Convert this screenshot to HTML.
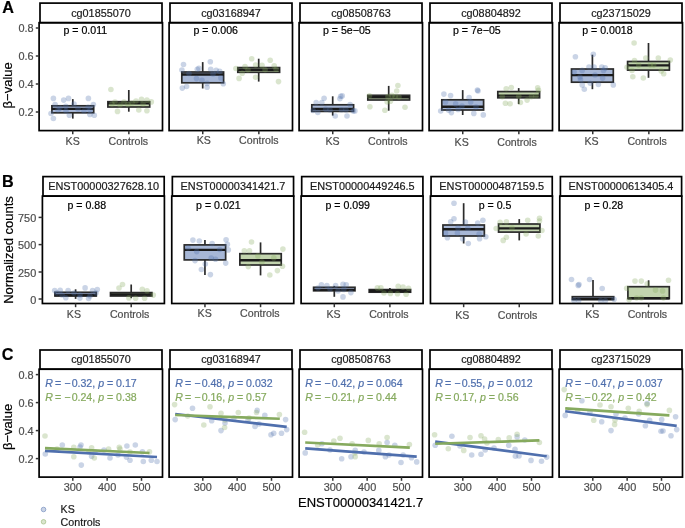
<!DOCTYPE html>
<html><head><meta charset="utf-8"><style>
html,body{margin:0;padding:0;background:#fff;width:685px;height:528px;overflow:hidden;}
svg{display:block;will-change:transform;}
text{font-family:"Liberation Sans", sans-serif;}
</style></head><body>
<svg width="685" height="528" viewBox="0 0 685 528" font-family='"Liberation Sans", sans-serif'>
<rect width="685" height="528" fill="#fff"/>
<text x="2.20" y="13.40" font-size="16.2" fill="#000" stroke="#000" stroke-width="0.2" text-anchor="start" font-weight="bold">A</text>
<text x="2.00" y="186.60" font-size="16.2" fill="#000" stroke="#000" stroke-width="0.2" text-anchor="start" font-weight="bold">B</text>
<text x="1.80" y="360.00" font-size="16.2" fill="#000" stroke="#000" stroke-width="0.2" text-anchor="start" font-weight="bold">C</text>
<line x1="72.80" y1="99.10" x2="72.80" y2="105.80" stroke="#2b2b2b" stroke-width="1.7" stroke-linecap="butt"/>
<line x1="72.80" y1="112.80" x2="72.80" y2="118.60" stroke="#2b2b2b" stroke-width="1.7" stroke-linecap="butt"/>
<rect x="51.90" y="105.80" width="41.80" height="7.00" fill="#4F6FAD" fill-opacity="0.5" stroke="#2b2b2b" stroke-width="1.7"/>
<line x1="51.90" y1="108.90" x2="93.70" y2="108.90" stroke="#1a1a1a" stroke-width="2.4" stroke-linecap="butt"/>
<line x1="128.80" y1="90.00" x2="128.80" y2="101.70" stroke="#2b2b2b" stroke-width="1.7" stroke-linecap="butt"/>
<line x1="128.80" y1="107.00" x2="128.80" y2="111.70" stroke="#2b2b2b" stroke-width="1.7" stroke-linecap="butt"/>
<rect x="107.90" y="101.70" width="41.80" height="5.30" fill="#86AA5E" fill-opacity="0.5" stroke="#2b2b2b" stroke-width="1.7"/>
<line x1="107.90" y1="103.40" x2="149.70" y2="103.40" stroke="#1a1a1a" stroke-width="2.4" stroke-linecap="butt"/>
<circle cx="53.40" cy="98.40" r="2.8" fill="#4F6FAD" fill-opacity="0.3"/>
<circle cx="63.70" cy="100.10" r="2.8" fill="#4F6FAD" fill-opacity="0.3"/>
<circle cx="68.50" cy="98.40" r="2.8" fill="#4F6FAD" fill-opacity="0.3"/>
<circle cx="88.40" cy="98.40" r="2.8" fill="#4F6FAD" fill-opacity="0.3"/>
<circle cx="55.10" cy="104.60" r="2.8" fill="#4F6FAD" fill-opacity="0.3"/>
<circle cx="93.40" cy="104.60" r="2.8" fill="#4F6FAD" fill-opacity="0.3"/>
<circle cx="65.80" cy="106.40" r="2.8" fill="#4F6FAD" fill-opacity="0.3"/>
<circle cx="88.10" cy="107.30" r="2.8" fill="#4F6FAD" fill-opacity="0.3"/>
<circle cx="51.00" cy="113.50" r="2.8" fill="#4F6FAD" fill-opacity="0.3"/>
<circle cx="53.40" cy="118.50" r="2.8" fill="#4F6FAD" fill-opacity="0.3"/>
<circle cx="69.40" cy="115.30" r="2.8" fill="#4F6FAD" fill-opacity="0.3"/>
<circle cx="89.90" cy="114.40" r="2.8" fill="#4F6FAD" fill-opacity="0.3"/>
<circle cx="94.30" cy="115.30" r="2.8" fill="#4F6FAD" fill-opacity="0.3"/>
<circle cx="58.00" cy="110.00" r="2.8" fill="#4F6FAD" fill-opacity="0.3"/>
<circle cx="78.00" cy="109.00" r="2.8" fill="#4F6FAD" fill-opacity="0.3"/>
<circle cx="84.00" cy="111.00" r="2.8" fill="#4F6FAD" fill-opacity="0.3"/>
<circle cx="60.00" cy="108.00" r="2.8" fill="#4F6FAD" fill-opacity="0.3"/>
<circle cx="74.00" cy="104.00" r="2.8" fill="#4F6FAD" fill-opacity="0.3"/>
<circle cx="66.00" cy="111.00" r="2.8" fill="#4F6FAD" fill-opacity="0.3"/>
<circle cx="90.00" cy="110.00" r="2.8" fill="#4F6FAD" fill-opacity="0.3"/>
<circle cx="110.90" cy="89.50" r="2.8" fill="#86AA5E" fill-opacity="0.3"/>
<circle cx="117.50" cy="111.40" r="2.8" fill="#86AA5E" fill-opacity="0.3"/>
<circle cx="138.80" cy="110.00" r="2.8" fill="#86AA5E" fill-opacity="0.3"/>
<circle cx="146.90" cy="110.80" r="2.8" fill="#86AA5E" fill-opacity="0.3"/>
<circle cx="141.50" cy="99.20" r="2.8" fill="#86AA5E" fill-opacity="0.3"/>
<circle cx="146.90" cy="100.10" r="2.8" fill="#86AA5E" fill-opacity="0.3"/>
<circle cx="151.30" cy="101.90" r="2.8" fill="#86AA5E" fill-opacity="0.3"/>
<circle cx="115.00" cy="102.00" r="2.8" fill="#86AA5E" fill-opacity="0.3"/>
<circle cx="124.00" cy="102.00" r="2.8" fill="#86AA5E" fill-opacity="0.3"/>
<circle cx="132.00" cy="103.00" r="2.8" fill="#86AA5E" fill-opacity="0.3"/>
<circle cx="136.00" cy="101.00" r="2.8" fill="#86AA5E" fill-opacity="0.3"/>
<circle cx="120.00" cy="105.00" r="2.8" fill="#86AA5E" fill-opacity="0.3"/>
<circle cx="143.00" cy="104.00" r="2.8" fill="#86AA5E" fill-opacity="0.3"/>
<circle cx="128.00" cy="104.50" r="2.8" fill="#86AA5E" fill-opacity="0.3"/>
<circle cx="112.00" cy="104.00" r="2.8" fill="#86AA5E" fill-opacity="0.3"/>
<rect x="40.00" y="3.10" width="122.00" height="19.60" fill="none" stroke="#000" stroke-width="1.7"/>
<text x="101.00" y="16.70" font-size="10.85" fill="#1A1A1A" stroke="#1A1A1A" stroke-width="0.2" text-anchor="middle" >cg01855070</text>
<rect x="39.10" y="22.70" width="123.40" height="107.90" fill="none" stroke="#000" stroke-width="1.7"/>
<text x="63.50" y="34.00" font-size="10.6" fill="#000" stroke="#000" stroke-width="0.2" text-anchor="start" >p = 0.011</text>
<line x1="72.75" y1="130.60" x2="72.75" y2="134.30" stroke="#333" stroke-width="1.5" stroke-linecap="butt"/>
<text x="72.65" y="144.70" font-size="10.6" fill="#4D4D4D" stroke="#4D4D4D" stroke-width="0.2" text-anchor="middle" >KS</text>
<line x1="128.85" y1="130.60" x2="128.85" y2="134.30" stroke="#333" stroke-width="1.5" stroke-linecap="butt"/>
<text x="128.35" y="144.70" font-size="10.6" fill="#4D4D4D" stroke="#4D4D4D" stroke-width="0.2" text-anchor="middle" >Controls</text>
<line x1="202.70" y1="62.10" x2="202.70" y2="72.00" stroke="#2b2b2b" stroke-width="1.7" stroke-linecap="butt"/>
<line x1="202.70" y1="82.80" x2="202.70" y2="88.50" stroke="#2b2b2b" stroke-width="1.7" stroke-linecap="butt"/>
<rect x="181.80" y="72.00" width="41.80" height="10.80" fill="#4F6FAD" fill-opacity="0.5" stroke="#2b2b2b" stroke-width="1.7"/>
<line x1="181.80" y1="74.50" x2="223.60" y2="74.50" stroke="#1a1a1a" stroke-width="2.4" stroke-linecap="butt"/>
<line x1="258.70" y1="58.70" x2="258.70" y2="67.60" stroke="#2b2b2b" stroke-width="1.7" stroke-linecap="butt"/>
<line x1="258.70" y1="72.30" x2="258.70" y2="81.60" stroke="#2b2b2b" stroke-width="1.7" stroke-linecap="butt"/>
<rect x="237.80" y="67.60" width="41.80" height="4.70" fill="#86AA5E" fill-opacity="0.5" stroke="#2b2b2b" stroke-width="1.7"/>
<line x1="237.80" y1="69.70" x2="279.60" y2="69.70" stroke="#1a1a1a" stroke-width="2.4" stroke-linecap="butt"/>
<circle cx="183.50" cy="64.50" r="2.8" fill="#4F6FAD" fill-opacity="0.3"/>
<circle cx="210.30" cy="61.70" r="2.8" fill="#4F6FAD" fill-opacity="0.3"/>
<circle cx="181.90" cy="70.00" r="2.8" fill="#4F6FAD" fill-opacity="0.3"/>
<circle cx="197.30" cy="69.20" r="2.8" fill="#4F6FAD" fill-opacity="0.3"/>
<circle cx="198.90" cy="68.40" r="2.8" fill="#4F6FAD" fill-opacity="0.3"/>
<circle cx="210.70" cy="69.20" r="2.8" fill="#4F6FAD" fill-opacity="0.3"/>
<circle cx="216.20" cy="70.40" r="2.8" fill="#4F6FAD" fill-opacity="0.3"/>
<circle cx="219.70" cy="71.20" r="2.8" fill="#4F6FAD" fill-opacity="0.3"/>
<circle cx="196.50" cy="78.60" r="2.8" fill="#4F6FAD" fill-opacity="0.3"/>
<circle cx="202.00" cy="80.20" r="2.8" fill="#4F6FAD" fill-opacity="0.3"/>
<circle cx="207.10" cy="83.40" r="2.8" fill="#4F6FAD" fill-opacity="0.3"/>
<circle cx="207.10" cy="87.30" r="2.8" fill="#4F6FAD" fill-opacity="0.3"/>
<circle cx="223.30" cy="83.80" r="2.8" fill="#4F6FAD" fill-opacity="0.3"/>
<circle cx="182.30" cy="88.10" r="2.8" fill="#4F6FAD" fill-opacity="0.3"/>
<circle cx="186.60" cy="86.50" r="2.8" fill="#4F6FAD" fill-opacity="0.3"/>
<circle cx="220.90" cy="77.90" r="2.8" fill="#4F6FAD" fill-opacity="0.3"/>
<circle cx="189.00" cy="73.50" r="2.8" fill="#4F6FAD" fill-opacity="0.3"/>
<circle cx="213.00" cy="74.00" r="2.8" fill="#4F6FAD" fill-opacity="0.3"/>
<circle cx="251.70" cy="58.70" r="2.8" fill="#86AA5E" fill-opacity="0.3"/>
<circle cx="270.20" cy="60.30" r="2.8" fill="#86AA5E" fill-opacity="0.3"/>
<circle cx="235.90" cy="68.50" r="2.8" fill="#86AA5E" fill-opacity="0.3"/>
<circle cx="245.00" cy="66.60" r="2.8" fill="#86AA5E" fill-opacity="0.3"/>
<circle cx="255.60" cy="65.00" r="2.8" fill="#86AA5E" fill-opacity="0.3"/>
<circle cx="262.00" cy="65.40" r="2.8" fill="#86AA5E" fill-opacity="0.3"/>
<circle cx="274.20" cy="65.80" r="2.8" fill="#86AA5E" fill-opacity="0.3"/>
<circle cx="239.10" cy="78.40" r="2.8" fill="#86AA5E" fill-opacity="0.3"/>
<circle cx="242.20" cy="73.30" r="2.8" fill="#86AA5E" fill-opacity="0.3"/>
<circle cx="255.60" cy="77.20" r="2.8" fill="#86AA5E" fill-opacity="0.3"/>
<circle cx="278.50" cy="81.60" r="2.8" fill="#86AA5E" fill-opacity="0.3"/>
<circle cx="265.10" cy="69.70" r="2.8" fill="#86AA5E" fill-opacity="0.3"/>
<circle cx="276.10" cy="69.30" r="2.8" fill="#86AA5E" fill-opacity="0.3"/>
<circle cx="248.00" cy="70.00" r="2.8" fill="#86AA5E" fill-opacity="0.3"/>
<rect x="170.00" y="3.10" width="122.00" height="19.60" fill="none" stroke="#000" stroke-width="1.7"/>
<text x="231.00" y="16.70" font-size="10.85" fill="#1A1A1A" stroke="#1A1A1A" stroke-width="0.2" text-anchor="middle" >cg03168947</text>
<rect x="169.10" y="22.70" width="123.40" height="107.90" fill="none" stroke="#000" stroke-width="1.7"/>
<text x="193.50" y="34.00" font-size="10.6" fill="#000" stroke="#000" stroke-width="0.2" text-anchor="start" >p = 0.006</text>
<line x1="202.75" y1="130.60" x2="202.75" y2="134.30" stroke="#333" stroke-width="1.5" stroke-linecap="butt"/>
<text x="203.75" y="143.70" font-size="10.6" fill="#4D4D4D" stroke="#4D4D4D" stroke-width="0.2" text-anchor="middle" >KS</text>
<line x1="258.85" y1="130.60" x2="258.85" y2="134.30" stroke="#333" stroke-width="1.5" stroke-linecap="butt"/>
<text x="258.85" y="143.70" font-size="10.6" fill="#4D4D4D" stroke="#4D4D4D" stroke-width="0.2" text-anchor="middle" >Controls</text>
<line x1="332.70" y1="96.30" x2="332.70" y2="104.80" stroke="#2b2b2b" stroke-width="1.7" stroke-linecap="butt"/>
<line x1="332.70" y1="111.40" x2="332.70" y2="115.60" stroke="#2b2b2b" stroke-width="1.7" stroke-linecap="butt"/>
<rect x="311.80" y="104.80" width="41.80" height="6.60" fill="#4F6FAD" fill-opacity="0.5" stroke="#2b2b2b" stroke-width="1.7"/>
<line x1="311.80" y1="109.00" x2="353.60" y2="109.00" stroke="#1a1a1a" stroke-width="2.4" stroke-linecap="butt"/>
<line x1="388.70" y1="85.90" x2="388.70" y2="95.30" stroke="#2b2b2b" stroke-width="1.7" stroke-linecap="butt"/>
<line x1="388.70" y1="100.00" x2="388.70" y2="110.70" stroke="#2b2b2b" stroke-width="1.7" stroke-linecap="butt"/>
<rect x="367.80" y="95.30" width="41.80" height="4.70" fill="#86AA5E" fill-opacity="0.5" stroke="#2b2b2b" stroke-width="1.7"/>
<line x1="367.80" y1="97.30" x2="409.60" y2="97.30" stroke="#1a1a1a" stroke-width="2.4" stroke-linecap="butt"/>
<circle cx="324.10" cy="98.30" r="2.8" fill="#4F6FAD" fill-opacity="0.3"/>
<circle cx="340.70" cy="96.30" r="2.8" fill="#4F6FAD" fill-opacity="0.3"/>
<circle cx="342.20" cy="95.90" r="2.8" fill="#4F6FAD" fill-opacity="0.3"/>
<circle cx="339.90" cy="98.70" r="2.8" fill="#4F6FAD" fill-opacity="0.3"/>
<circle cx="316.20" cy="102.60" r="2.8" fill="#4F6FAD" fill-opacity="0.3"/>
<circle cx="321.80" cy="102.60" r="2.8" fill="#4F6FAD" fill-opacity="0.3"/>
<circle cx="313.10" cy="110.50" r="2.8" fill="#4F6FAD" fill-opacity="0.3"/>
<circle cx="317.80" cy="112.50" r="2.8" fill="#4F6FAD" fill-opacity="0.3"/>
<circle cx="335.20" cy="116.00" r="2.8" fill="#4F6FAD" fill-opacity="0.3"/>
<circle cx="347.00" cy="116.00" r="2.8" fill="#4F6FAD" fill-opacity="0.3"/>
<circle cx="353.30" cy="110.90" r="2.8" fill="#4F6FAD" fill-opacity="0.3"/>
<circle cx="354.90" cy="110.90" r="2.8" fill="#4F6FAD" fill-opacity="0.3"/>
<circle cx="350.10" cy="104.60" r="2.8" fill="#4F6FAD" fill-opacity="0.3"/>
<circle cx="325.70" cy="109.30" r="2.8" fill="#4F6FAD" fill-opacity="0.3"/>
<circle cx="341.50" cy="109.70" r="2.8" fill="#4F6FAD" fill-opacity="0.3"/>
<circle cx="330.00" cy="110.00" r="2.8" fill="#4F6FAD" fill-opacity="0.3"/>
<circle cx="346.00" cy="110.00" r="2.8" fill="#4F6FAD" fill-opacity="0.3"/>
<circle cx="397.90" cy="85.50" r="2.8" fill="#86AA5E" fill-opacity="0.3"/>
<circle cx="396.70" cy="91.00" r="2.8" fill="#86AA5E" fill-opacity="0.3"/>
<circle cx="369.50" cy="95.80" r="2.8" fill="#86AA5E" fill-opacity="0.3"/>
<circle cx="388.00" cy="96.50" r="2.8" fill="#86AA5E" fill-opacity="0.3"/>
<circle cx="392.00" cy="95.40" r="2.8" fill="#86AA5E" fill-opacity="0.3"/>
<circle cx="395.10" cy="96.50" r="2.8" fill="#86AA5E" fill-opacity="0.3"/>
<circle cx="390.40" cy="101.30" r="2.8" fill="#86AA5E" fill-opacity="0.3"/>
<circle cx="387.20" cy="102.00" r="2.8" fill="#86AA5E" fill-opacity="0.3"/>
<circle cx="369.90" cy="106.80" r="2.8" fill="#86AA5E" fill-opacity="0.3"/>
<circle cx="384.90" cy="110.30" r="2.8" fill="#86AA5E" fill-opacity="0.3"/>
<circle cx="405.00" cy="107.20" r="2.8" fill="#86AA5E" fill-opacity="0.3"/>
<circle cx="399.00" cy="97.00" r="2.8" fill="#86AA5E" fill-opacity="0.3"/>
<rect x="300.00" y="3.10" width="122.00" height="19.60" fill="none" stroke="#000" stroke-width="1.7"/>
<text x="361.00" y="16.70" font-size="10.85" fill="#1A1A1A" stroke="#1A1A1A" stroke-width="0.2" text-anchor="middle" >cg08508763</text>
<rect x="299.10" y="22.70" width="123.40" height="107.90" fill="none" stroke="#000" stroke-width="1.7"/>
<text x="323.00" y="34.00" font-size="10.6" fill="#000" stroke="#000" stroke-width="0.2" text-anchor="start" >p = 5e−05</text>
<line x1="332.75" y1="130.60" x2="332.75" y2="134.30" stroke="#333" stroke-width="1.5" stroke-linecap="butt"/>
<text x="332.55" y="145.00" font-size="10.6" fill="#4D4D4D" stroke="#4D4D4D" stroke-width="0.2" text-anchor="middle" >KS</text>
<line x1="388.85" y1="130.60" x2="388.85" y2="134.30" stroke="#333" stroke-width="1.5" stroke-linecap="butt"/>
<text x="387.85" y="145.00" font-size="10.6" fill="#4D4D4D" stroke="#4D4D4D" stroke-width="0.2" text-anchor="middle" >Controls</text>
<line x1="462.70" y1="90.10" x2="462.70" y2="99.80" stroke="#2b2b2b" stroke-width="1.7" stroke-linecap="butt"/>
<line x1="462.70" y1="110.00" x2="462.70" y2="115.00" stroke="#2b2b2b" stroke-width="1.7" stroke-linecap="butt"/>
<rect x="441.80" y="99.80" width="41.80" height="10.20" fill="#4F6FAD" fill-opacity="0.5" stroke="#2b2b2b" stroke-width="1.7"/>
<line x1="441.80" y1="106.70" x2="483.60" y2="106.70" stroke="#1a1a1a" stroke-width="2.4" stroke-linecap="butt"/>
<line x1="518.70" y1="88.10" x2="518.70" y2="91.60" stroke="#2b2b2b" stroke-width="1.7" stroke-linecap="butt"/>
<line x1="518.70" y1="97.80" x2="518.70" y2="104.10" stroke="#2b2b2b" stroke-width="1.7" stroke-linecap="butt"/>
<rect x="497.80" y="91.60" width="41.80" height="6.20" fill="#86AA5E" fill-opacity="0.5" stroke="#2b2b2b" stroke-width="1.7"/>
<line x1="497.80" y1="95.60" x2="539.60" y2="95.60" stroke="#1a1a1a" stroke-width="2.4" stroke-linecap="butt"/>
<circle cx="443.90" cy="94.10" r="2.8" fill="#4F6FAD" fill-opacity="0.3"/>
<circle cx="450.60" cy="95.60" r="2.8" fill="#4F6FAD" fill-opacity="0.3"/>
<circle cx="477.40" cy="90.10" r="2.8" fill="#4F6FAD" fill-opacity="0.3"/>
<circle cx="478.00" cy="91.00" r="2.8" fill="#4F6FAD" fill-opacity="0.3"/>
<circle cx="469.10" cy="97.60" r="2.8" fill="#4F6FAD" fill-opacity="0.3"/>
<circle cx="470.70" cy="101.90" r="2.8" fill="#4F6FAD" fill-opacity="0.3"/>
<circle cx="455.70" cy="103.90" r="2.8" fill="#4F6FAD" fill-opacity="0.3"/>
<circle cx="445.50" cy="101.90" r="2.8" fill="#4F6FAD" fill-opacity="0.3"/>
<circle cx="440.70" cy="111.00" r="2.8" fill="#4F6FAD" fill-opacity="0.3"/>
<circle cx="451.40" cy="112.60" r="2.8" fill="#4F6FAD" fill-opacity="0.3"/>
<circle cx="473.80" cy="113.40" r="2.8" fill="#4F6FAD" fill-opacity="0.3"/>
<circle cx="483.30" cy="114.90" r="2.8" fill="#4F6FAD" fill-opacity="0.3"/>
<circle cx="458.10" cy="109.40" r="2.8" fill="#4F6FAD" fill-opacity="0.3"/>
<circle cx="448.60" cy="110.20" r="2.8" fill="#4F6FAD" fill-opacity="0.3"/>
<circle cx="462.00" cy="106.00" r="2.8" fill="#4F6FAD" fill-opacity="0.3"/>
<circle cx="476.00" cy="107.00" r="2.8" fill="#4F6FAD" fill-opacity="0.3"/>
<circle cx="506.20" cy="88.70" r="2.8" fill="#86AA5E" fill-opacity="0.3"/>
<circle cx="511.30" cy="87.50" r="2.8" fill="#86AA5E" fill-opacity="0.3"/>
<circle cx="537.70" cy="87.90" r="2.8" fill="#86AA5E" fill-opacity="0.3"/>
<circle cx="538.50" cy="90.30" r="2.8" fill="#86AA5E" fill-opacity="0.3"/>
<circle cx="502.20" cy="96.60" r="2.8" fill="#86AA5E" fill-opacity="0.3"/>
<circle cx="518.80" cy="96.20" r="2.8" fill="#86AA5E" fill-opacity="0.3"/>
<circle cx="531.40" cy="96.60" r="2.8" fill="#86AA5E" fill-opacity="0.3"/>
<circle cx="505.40" cy="103.30" r="2.8" fill="#86AA5E" fill-opacity="0.3"/>
<circle cx="510.10" cy="103.70" r="2.8" fill="#86AA5E" fill-opacity="0.3"/>
<circle cx="520.40" cy="102.50" r="2.8" fill="#86AA5E" fill-opacity="0.3"/>
<circle cx="527.10" cy="100.10" r="2.8" fill="#86AA5E" fill-opacity="0.3"/>
<circle cx="536.00" cy="96.00" r="2.8" fill="#86AA5E" fill-opacity="0.3"/>
<rect x="430.00" y="3.10" width="122.00" height="19.60" fill="none" stroke="#000" stroke-width="1.7"/>
<text x="491.00" y="16.70" font-size="10.85" fill="#1A1A1A" stroke="#1A1A1A" stroke-width="0.2" text-anchor="middle" >cg08804892</text>
<rect x="429.10" y="22.70" width="123.40" height="107.90" fill="none" stroke="#000" stroke-width="1.7"/>
<text x="453.00" y="34.00" font-size="10.6" fill="#000" stroke="#000" stroke-width="0.2" text-anchor="start" >p = 7e−05</text>
<line x1="462.75" y1="130.60" x2="462.75" y2="134.30" stroke="#333" stroke-width="1.5" stroke-linecap="butt"/>
<text x="461.65" y="145.60" font-size="10.6" fill="#4D4D4D" stroke="#4D4D4D" stroke-width="0.2" text-anchor="middle" >KS</text>
<line x1="518.85" y1="130.60" x2="518.85" y2="134.30" stroke="#333" stroke-width="1.5" stroke-linecap="butt"/>
<text x="517.05" y="145.60" font-size="10.6" fill="#4D4D4D" stroke="#4D4D4D" stroke-width="0.2" text-anchor="middle" >Controls</text>
<line x1="592.40" y1="54.70" x2="592.40" y2="69.00" stroke="#2b2b2b" stroke-width="1.7" stroke-linecap="butt"/>
<line x1="592.40" y1="82.20" x2="592.40" y2="89.20" stroke="#2b2b2b" stroke-width="1.7" stroke-linecap="butt"/>
<rect x="571.50" y="69.00" width="41.80" height="13.20" fill="#4F6FAD" fill-opacity="0.5" stroke="#2b2b2b" stroke-width="1.7"/>
<line x1="571.50" y1="75.10" x2="613.30" y2="75.10" stroke="#1a1a1a" stroke-width="2.4" stroke-linecap="butt"/>
<line x1="648.50" y1="43.00" x2="648.50" y2="61.50" stroke="#2b2b2b" stroke-width="1.7" stroke-linecap="butt"/>
<line x1="648.50" y1="70.10" x2="648.50" y2="77.80" stroke="#2b2b2b" stroke-width="1.7" stroke-linecap="butt"/>
<rect x="627.60" y="61.50" width="41.80" height="8.60" fill="#86AA5E" fill-opacity="0.5" stroke="#2b2b2b" stroke-width="1.7"/>
<line x1="627.60" y1="65.40" x2="669.40" y2="65.40" stroke="#1a1a1a" stroke-width="2.4" stroke-linecap="butt"/>
<circle cx="575.40" cy="56.80" r="2.8" fill="#4F6FAD" fill-opacity="0.3"/>
<circle cx="593.30" cy="54.30" r="2.8" fill="#4F6FAD" fill-opacity="0.3"/>
<circle cx="589.00" cy="67.00" r="2.8" fill="#4F6FAD" fill-opacity="0.3"/>
<circle cx="594.10" cy="67.00" r="2.8" fill="#4F6FAD" fill-opacity="0.3"/>
<circle cx="601.80" cy="67.00" r="2.8" fill="#4F6FAD" fill-opacity="0.3"/>
<circle cx="605.20" cy="67.90" r="2.8" fill="#4F6FAD" fill-opacity="0.3"/>
<circle cx="574.10" cy="72.10" r="2.8" fill="#4F6FAD" fill-opacity="0.3"/>
<circle cx="582.20" cy="70.40" r="2.8" fill="#4F6FAD" fill-opacity="0.3"/>
<circle cx="603.50" cy="70.40" r="2.8" fill="#4F6FAD" fill-opacity="0.3"/>
<circle cx="580.50" cy="79.80" r="2.8" fill="#4F6FAD" fill-opacity="0.3"/>
<circle cx="582.20" cy="84.90" r="2.8" fill="#4F6FAD" fill-opacity="0.3"/>
<circle cx="584.30" cy="89.20" r="2.8" fill="#4F6FAD" fill-opacity="0.3"/>
<circle cx="590.30" cy="83.20" r="2.8" fill="#4F6FAD" fill-opacity="0.3"/>
<circle cx="598.40" cy="84.50" r="2.8" fill="#4F6FAD" fill-opacity="0.3"/>
<circle cx="613.30" cy="84.90" r="2.8" fill="#4F6FAD" fill-opacity="0.3"/>
<circle cx="602.60" cy="78.10" r="2.8" fill="#4F6FAD" fill-opacity="0.3"/>
<circle cx="595.00" cy="75.00" r="2.8" fill="#4F6FAD" fill-opacity="0.3"/>
<circle cx="580.00" cy="77.00" r="2.8" fill="#4F6FAD" fill-opacity="0.3"/>
<circle cx="634.10" cy="43.00" r="2.8" fill="#86AA5E" fill-opacity="0.3"/>
<circle cx="645.80" cy="58.00" r="2.8" fill="#86AA5E" fill-opacity="0.3"/>
<circle cx="658.30" cy="58.00" r="2.8" fill="#86AA5E" fill-opacity="0.3"/>
<circle cx="670.30" cy="60.10" r="2.8" fill="#86AA5E" fill-opacity="0.3"/>
<circle cx="634.50" cy="60.50" r="2.8" fill="#86AA5E" fill-opacity="0.3"/>
<circle cx="627.00" cy="67.20" r="2.8" fill="#86AA5E" fill-opacity="0.3"/>
<circle cx="638.70" cy="65.10" r="2.8" fill="#86AA5E" fill-opacity="0.3"/>
<circle cx="650.30" cy="65.10" r="2.8" fill="#86AA5E" fill-opacity="0.3"/>
<circle cx="653.70" cy="65.10" r="2.8" fill="#86AA5E" fill-opacity="0.3"/>
<circle cx="632.00" cy="70.50" r="2.8" fill="#86AA5E" fill-opacity="0.3"/>
<circle cx="661.20" cy="70.90" r="2.8" fill="#86AA5E" fill-opacity="0.3"/>
<circle cx="663.70" cy="73.80" r="2.8" fill="#86AA5E" fill-opacity="0.3"/>
<circle cx="632.80" cy="76.75" r="2.8" fill="#86AA5E" fill-opacity="0.3"/>
<circle cx="643.30" cy="78.00" r="2.8" fill="#86AA5E" fill-opacity="0.3"/>
<rect x="560.00" y="3.10" width="122.00" height="19.60" fill="none" stroke="#000" stroke-width="1.7"/>
<text x="621.00" y="16.70" font-size="10.85" fill="#1A1A1A" stroke="#1A1A1A" stroke-width="0.2" text-anchor="middle" >cg23715029</text>
<rect x="559.10" y="22.70" width="123.40" height="107.90" fill="none" stroke="#000" stroke-width="1.7"/>
<text x="582.20" y="34.00" font-size="10.6" fill="#000" stroke="#000" stroke-width="0.2" text-anchor="start" >p = 0.0018</text>
<line x1="592.75" y1="130.60" x2="592.75" y2="134.30" stroke="#333" stroke-width="1.5" stroke-linecap="butt"/>
<text x="591.45" y="144.50" font-size="10.6" fill="#4D4D4D" stroke="#4D4D4D" stroke-width="0.2" text-anchor="middle" >KS</text>
<line x1="648.85" y1="130.60" x2="648.85" y2="134.30" stroke="#333" stroke-width="1.5" stroke-linecap="butt"/>
<text x="647.15" y="144.50" font-size="10.6" fill="#4D4D4D" stroke="#4D4D4D" stroke-width="0.2" text-anchor="middle" >Controls</text>
<line x1="35.80" y1="112.00" x2="39.10" y2="112.00" stroke="#333" stroke-width="1.5" stroke-linecap="butt"/>
<text x="33.60" y="115.90" font-size="10.9" fill="#4D4D4D" stroke="#4D4D4D" stroke-width="0.2" text-anchor="end" >0.2</text>
<line x1="35.80" y1="84.00" x2="39.10" y2="84.00" stroke="#333" stroke-width="1.5" stroke-linecap="butt"/>
<text x="33.60" y="87.90" font-size="10.9" fill="#4D4D4D" stroke="#4D4D4D" stroke-width="0.2" text-anchor="end" >0.4</text>
<line x1="35.80" y1="56.00" x2="39.10" y2="56.00" stroke="#333" stroke-width="1.5" stroke-linecap="butt"/>
<text x="33.60" y="59.90" font-size="10.9" fill="#4D4D4D" stroke="#4D4D4D" stroke-width="0.2" text-anchor="end" >0.6</text>
<line x1="35.80" y1="28.00" x2="39.10" y2="28.00" stroke="#333" stroke-width="1.5" stroke-linecap="butt"/>
<text x="33.60" y="31.90" font-size="10.9" fill="#4D4D4D" stroke="#4D4D4D" stroke-width="0.2" text-anchor="end" >0.8</text>
<text transform="translate(12.2,85.3) rotate(-90)" font-size="13" text-anchor="middle" fill="#000" stroke="#000" stroke-width="0.2">β−value</text>
<line x1="75.60" y1="289.30" x2="75.60" y2="292.30" stroke="#2b2b2b" stroke-width="1.7" stroke-linecap="butt"/>
<line x1="75.60" y1="296.00" x2="75.60" y2="298.90" stroke="#2b2b2b" stroke-width="1.7" stroke-linecap="butt"/>
<rect x="54.90" y="292.30" width="41.40" height="3.70" fill="#4F6FAD" fill-opacity="0.5" stroke="#2b2b2b" stroke-width="1.7"/>
<line x1="54.90" y1="295.00" x2="96.30" y2="295.00" stroke="#1a1a1a" stroke-width="2.4" stroke-linecap="butt"/>
<line x1="131.20" y1="284.50" x2="131.20" y2="292.60" stroke="#2b2b2b" stroke-width="1.7" stroke-linecap="butt"/>
<line x1="131.20" y1="296.00" x2="131.20" y2="298.20" stroke="#2b2b2b" stroke-width="1.7" stroke-linecap="butt"/>
<rect x="110.50" y="292.60" width="41.40" height="3.40" fill="#86AA5E" fill-opacity="0.5" stroke="#2b2b2b" stroke-width="1.7"/>
<line x1="110.50" y1="294.50" x2="151.90" y2="294.50" stroke="#1a1a1a" stroke-width="2.4" stroke-linecap="butt"/>
<circle cx="54.70" cy="290.60" r="2.8" fill="#4F6FAD" fill-opacity="0.3"/>
<circle cx="60.20" cy="290.20" r="2.8" fill="#4F6FAD" fill-opacity="0.3"/>
<circle cx="68.10" cy="290.60" r="2.8" fill="#4F6FAD" fill-opacity="0.3"/>
<circle cx="85.10" cy="287.90" r="2.8" fill="#4F6FAD" fill-opacity="0.3"/>
<circle cx="97.30" cy="289.50" r="2.8" fill="#4F6FAD" fill-opacity="0.3"/>
<circle cx="92.60" cy="290.60" r="2.8" fill="#4F6FAD" fill-opacity="0.3"/>
<circle cx="65.80" cy="297.70" r="2.8" fill="#4F6FAD" fill-opacity="0.3"/>
<circle cx="79.90" cy="298.10" r="2.8" fill="#4F6FAD" fill-opacity="0.3"/>
<circle cx="88.60" cy="298.50" r="2.8" fill="#4F6FAD" fill-opacity="0.3"/>
<circle cx="96.00" cy="293.00" r="2.8" fill="#4F6FAD" fill-opacity="0.3"/>
<circle cx="57.00" cy="293.00" r="2.8" fill="#4F6FAD" fill-opacity="0.3"/>
<circle cx="74.00" cy="293.00" r="2.8" fill="#4F6FAD" fill-opacity="0.3"/>
<circle cx="80.00" cy="295.00" r="2.8" fill="#4F6FAD" fill-opacity="0.3"/>
<circle cx="90.00" cy="296.00" r="2.8" fill="#4F6FAD" fill-opacity="0.3"/>
<circle cx="62.00" cy="295.00" r="2.8" fill="#4F6FAD" fill-opacity="0.3"/>
<circle cx="122.50" cy="284.50" r="2.8" fill="#86AA5E" fill-opacity="0.3"/>
<circle cx="119.00" cy="288.00" r="2.8" fill="#86AA5E" fill-opacity="0.3"/>
<circle cx="142.30" cy="289.20" r="2.8" fill="#86AA5E" fill-opacity="0.3"/>
<circle cx="147.00" cy="290.80" r="2.8" fill="#86AA5E" fill-opacity="0.3"/>
<circle cx="153.30" cy="295.10" r="2.8" fill="#86AA5E" fill-opacity="0.3"/>
<circle cx="128.90" cy="297.90" r="2.8" fill="#86AA5E" fill-opacity="0.3"/>
<circle cx="135.60" cy="298.20" r="2.8" fill="#86AA5E" fill-opacity="0.3"/>
<circle cx="144.60" cy="298.20" r="2.8" fill="#86AA5E" fill-opacity="0.3"/>
<rect x="43.00" y="176.60" width="121.20" height="19.50" fill="none" stroke="#000" stroke-width="1.7"/>
<text x="103.60" y="190.30" font-size="10.9" fill="#1A1A1A" stroke="#1A1A1A" stroke-width="0.2" text-anchor="middle" >ENST00000327628.10</text>
<rect x="42.40" y="196.10" width="122.00" height="107.40" fill="none" stroke="#000" stroke-width="1.7"/>
<text x="67.50" y="208.90" font-size="10.6" fill="#000" stroke="#000" stroke-width="0.2" text-anchor="start" >p = 0.88</text>
<line x1="75.60" y1="303.50" x2="75.60" y2="307.20" stroke="#333" stroke-width="1.5" stroke-linecap="butt"/>
<text x="73.90" y="318.20" font-size="10.6" fill="#4D4D4D" stroke="#4D4D4D" stroke-width="0.2" text-anchor="middle" >KS</text>
<line x1="131.20" y1="303.50" x2="131.20" y2="307.20" stroke="#333" stroke-width="1.5" stroke-linecap="butt"/>
<text x="129.70" y="318.20" font-size="10.6" fill="#4D4D4D" stroke="#4D4D4D" stroke-width="0.2" text-anchor="middle" >Controls</text>
<line x1="204.95" y1="240.10" x2="204.95" y2="244.90" stroke="#2b2b2b" stroke-width="1.7" stroke-linecap="butt"/>
<line x1="204.95" y1="259.90" x2="204.95" y2="274.90" stroke="#2b2b2b" stroke-width="1.7" stroke-linecap="butt"/>
<rect x="184.25" y="244.90" width="41.40" height="15.00" fill="#4F6FAD" fill-opacity="0.5" stroke="#2b2b2b" stroke-width="1.7"/>
<line x1="184.25" y1="249.90" x2="225.65" y2="249.90" stroke="#1a1a1a" stroke-width="2.4" stroke-linecap="butt"/>
<line x1="260.55" y1="242.40" x2="260.55" y2="253.70" stroke="#2b2b2b" stroke-width="1.7" stroke-linecap="butt"/>
<line x1="260.55" y1="265.00" x2="260.55" y2="275.40" stroke="#2b2b2b" stroke-width="1.7" stroke-linecap="butt"/>
<rect x="239.85" y="253.70" width="41.40" height="11.30" fill="#86AA5E" fill-opacity="0.5" stroke="#2b2b2b" stroke-width="1.7"/>
<line x1="239.85" y1="260.20" x2="281.25" y2="260.20" stroke="#1a1a1a" stroke-width="2.4" stroke-linecap="butt"/>
<circle cx="192.90" cy="240.10" r="2.8" fill="#4F6FAD" fill-opacity="0.3"/>
<circle cx="199.30" cy="241.00" r="2.8" fill="#4F6FAD" fill-opacity="0.3"/>
<circle cx="226.10" cy="239.70" r="2.8" fill="#4F6FAD" fill-opacity="0.3"/>
<circle cx="227.40" cy="244.40" r="2.8" fill="#4F6FAD" fill-opacity="0.3"/>
<circle cx="228.30" cy="249.90" r="2.8" fill="#4F6FAD" fill-opacity="0.3"/>
<circle cx="212.10" cy="243.50" r="2.8" fill="#4F6FAD" fill-opacity="0.3"/>
<circle cx="196.70" cy="251.60" r="2.8" fill="#4F6FAD" fill-opacity="0.3"/>
<circle cx="219.70" cy="249.50" r="2.8" fill="#4F6FAD" fill-opacity="0.3"/>
<circle cx="195.00" cy="260.60" r="2.8" fill="#4F6FAD" fill-opacity="0.3"/>
<circle cx="211.20" cy="258.00" r="2.8" fill="#4F6FAD" fill-opacity="0.3"/>
<circle cx="215.50" cy="259.30" r="2.8" fill="#4F6FAD" fill-opacity="0.3"/>
<circle cx="225.70" cy="263.10" r="2.8" fill="#4F6FAD" fill-opacity="0.3"/>
<circle cx="205.30" cy="264.00" r="2.8" fill="#4F6FAD" fill-opacity="0.3"/>
<circle cx="201.40" cy="269.50" r="2.8" fill="#4F6FAD" fill-opacity="0.3"/>
<circle cx="210.40" cy="274.60" r="2.8" fill="#4F6FAD" fill-opacity="0.3"/>
<circle cx="188.00" cy="248.00" r="2.8" fill="#4F6FAD" fill-opacity="0.3"/>
<circle cx="251.50" cy="242.00" r="2.8" fill="#86AA5E" fill-opacity="0.3"/>
<circle cx="282.90" cy="249.10" r="2.8" fill="#86AA5E" fill-opacity="0.3"/>
<circle cx="244.30" cy="250.70" r="2.8" fill="#86AA5E" fill-opacity="0.3"/>
<circle cx="249.50" cy="250.70" r="2.8" fill="#86AA5E" fill-opacity="0.3"/>
<circle cx="257.90" cy="255.90" r="2.8" fill="#86AA5E" fill-opacity="0.3"/>
<circle cx="273.80" cy="257.90" r="2.8" fill="#86AA5E" fill-opacity="0.3"/>
<circle cx="248.30" cy="266.60" r="2.8" fill="#86AA5E" fill-opacity="0.3"/>
<circle cx="282.50" cy="266.20" r="2.8" fill="#86AA5E" fill-opacity="0.3"/>
<circle cx="277.40" cy="270.60" r="2.8" fill="#86AA5E" fill-opacity="0.3"/>
<circle cx="269.80" cy="275.00" r="2.8" fill="#86AA5E" fill-opacity="0.3"/>
<circle cx="262.00" cy="262.00" r="2.8" fill="#86AA5E" fill-opacity="0.3"/>
<rect x="172.35" y="176.60" width="121.20" height="19.50" fill="none" stroke="#000" stroke-width="1.7"/>
<text x="232.95" y="190.30" font-size="10.9" fill="#1A1A1A" stroke="#1A1A1A" stroke-width="0.2" text-anchor="middle" >ENST00000341421.7</text>
<rect x="171.75" y="196.10" width="122.00" height="107.40" fill="none" stroke="#000" stroke-width="1.7"/>
<text x="196.10" y="208.90" font-size="10.6" fill="#000" stroke="#000" stroke-width="0.2" text-anchor="start" >p = 0.021</text>
<line x1="204.95" y1="303.50" x2="204.95" y2="307.20" stroke="#333" stroke-width="1.5" stroke-linecap="butt"/>
<text x="204.65" y="317.00" font-size="10.6" fill="#4D4D4D" stroke="#4D4D4D" stroke-width="0.2" text-anchor="middle" >KS</text>
<line x1="260.55" y1="303.50" x2="260.55" y2="307.20" stroke="#333" stroke-width="1.5" stroke-linecap="butt"/>
<text x="259.85" y="317.00" font-size="10.6" fill="#4D4D4D" stroke="#4D4D4D" stroke-width="0.2" text-anchor="middle" >Controls</text>
<line x1="334.30" y1="285.90" x2="334.30" y2="287.30" stroke="#2b2b2b" stroke-width="1.7" stroke-linecap="butt"/>
<line x1="334.30" y1="290.80" x2="334.30" y2="296.80" stroke="#2b2b2b" stroke-width="1.7" stroke-linecap="butt"/>
<rect x="313.60" y="287.30" width="41.40" height="3.50" fill="#4F6FAD" fill-opacity="0.5" stroke="#2b2b2b" stroke-width="1.7"/>
<line x1="313.60" y1="289.90" x2="355.00" y2="289.90" stroke="#1a1a1a" stroke-width="2.4" stroke-linecap="butt"/>
<line x1="389.90" y1="287.90" x2="389.90" y2="289.60" stroke="#2b2b2b" stroke-width="1.7" stroke-linecap="butt"/>
<line x1="389.90" y1="292.20" x2="389.90" y2="292.20" stroke="#2b2b2b" stroke-width="1.7" stroke-linecap="butt"/>
<rect x="369.20" y="289.60" width="41.40" height="2.60" fill="#86AA5E" fill-opacity="0.5" stroke="#2b2b2b" stroke-width="1.7"/>
<line x1="369.20" y1="291.00" x2="410.60" y2="291.00" stroke="#1a1a1a" stroke-width="2.4" stroke-linecap="butt"/>
<circle cx="321.40" cy="284.70" r="2.8" fill="#4F6FAD" fill-opacity="0.3"/>
<circle cx="326.90" cy="285.50" r="2.8" fill="#4F6FAD" fill-opacity="0.3"/>
<circle cx="335.60" cy="285.50" r="2.8" fill="#4F6FAD" fill-opacity="0.3"/>
<circle cx="343.00" cy="284.30" r="2.8" fill="#4F6FAD" fill-opacity="0.3"/>
<circle cx="346.20" cy="284.70" r="2.8" fill="#4F6FAD" fill-opacity="0.3"/>
<circle cx="343.80" cy="289.40" r="2.8" fill="#4F6FAD" fill-opacity="0.3"/>
<circle cx="350.90" cy="292.60" r="2.8" fill="#4F6FAD" fill-opacity="0.3"/>
<circle cx="343.00" cy="296.90" r="2.8" fill="#4F6FAD" fill-opacity="0.3"/>
<circle cx="338.00" cy="291.00" r="2.8" fill="#4F6FAD" fill-opacity="0.3"/>
<circle cx="318.00" cy="288.00" r="2.8" fill="#4F6FAD" fill-opacity="0.3"/>
<circle cx="330.00" cy="289.00" r="2.8" fill="#4F6FAD" fill-opacity="0.3"/>
<circle cx="377.40" cy="287.90" r="2.8" fill="#86AA5E" fill-opacity="0.3"/>
<circle cx="380.90" cy="287.90" r="2.8" fill="#86AA5E" fill-opacity="0.3"/>
<circle cx="398.20" cy="286.30" r="2.8" fill="#86AA5E" fill-opacity="0.3"/>
<circle cx="403.00" cy="287.10" r="2.8" fill="#86AA5E" fill-opacity="0.3"/>
<circle cx="408.50" cy="288.20" r="2.8" fill="#86AA5E" fill-opacity="0.3"/>
<circle cx="384.00" cy="293.00" r="2.8" fill="#86AA5E" fill-opacity="0.3"/>
<circle cx="390.40" cy="293.40" r="2.8" fill="#86AA5E" fill-opacity="0.3"/>
<circle cx="397.50" cy="293.80" r="2.8" fill="#86AA5E" fill-opacity="0.3"/>
<circle cx="406.10" cy="294.20" r="2.8" fill="#86AA5E" fill-opacity="0.3"/>
<rect x="301.70" y="176.60" width="121.20" height="19.50" fill="none" stroke="#000" stroke-width="1.7"/>
<text x="362.30" y="190.30" font-size="10.9" fill="#1A1A1A" stroke="#1A1A1A" stroke-width="0.2" text-anchor="middle" >ENST00000449246.5</text>
<rect x="301.10" y="196.10" width="122.00" height="107.40" fill="none" stroke="#000" stroke-width="1.7"/>
<text x="325.50" y="208.90" font-size="10.6" fill="#000" stroke="#000" stroke-width="0.2" text-anchor="start" >p = 0.099</text>
<line x1="334.30" y1="303.50" x2="334.30" y2="307.20" stroke="#333" stroke-width="1.5" stroke-linecap="butt"/>
<text x="333.50" y="317.90" font-size="10.6" fill="#4D4D4D" stroke="#4D4D4D" stroke-width="0.2" text-anchor="middle" >KS</text>
<line x1="389.90" y1="303.50" x2="389.90" y2="307.20" stroke="#333" stroke-width="1.5" stroke-linecap="butt"/>
<text x="388.90" y="317.90" font-size="10.6" fill="#4D4D4D" stroke="#4D4D4D" stroke-width="0.2" text-anchor="middle" >Controls</text>
<line x1="463.65" y1="203.20" x2="463.65" y2="225.00" stroke="#2b2b2b" stroke-width="1.7" stroke-linecap="butt"/>
<line x1="463.65" y1="236.00" x2="463.65" y2="243.50" stroke="#2b2b2b" stroke-width="1.7" stroke-linecap="butt"/>
<rect x="442.95" y="225.00" width="41.40" height="11.00" fill="#4F6FAD" fill-opacity="0.5" stroke="#2b2b2b" stroke-width="1.7"/>
<line x1="442.95" y1="229.30" x2="484.35" y2="229.30" stroke="#1a1a1a" stroke-width="2.4" stroke-linecap="butt"/>
<line x1="519.25" y1="219.10" x2="519.25" y2="224.00" stroke="#2b2b2b" stroke-width="1.7" stroke-linecap="butt"/>
<line x1="519.25" y1="232.10" x2="519.25" y2="240.40" stroke="#2b2b2b" stroke-width="1.7" stroke-linecap="butt"/>
<rect x="498.55" y="224.00" width="41.40" height="8.10" fill="#86AA5E" fill-opacity="0.5" stroke="#2b2b2b" stroke-width="1.7"/>
<line x1="498.55" y1="228.40" x2="539.95" y2="228.40" stroke="#1a1a1a" stroke-width="2.4" stroke-linecap="butt"/>
<circle cx="454.00" cy="203.20" r="2.8" fill="#4F6FAD" fill-opacity="0.3"/>
<circle cx="454.00" cy="218.80" r="2.8" fill="#4F6FAD" fill-opacity="0.3"/>
<circle cx="450.70" cy="221.70" r="2.8" fill="#4F6FAD" fill-opacity="0.3"/>
<circle cx="482.90" cy="220.30" r="2.8" fill="#4F6FAD" fill-opacity="0.3"/>
<circle cx="477.70" cy="223.10" r="2.8" fill="#4F6FAD" fill-opacity="0.3"/>
<circle cx="465.40" cy="222.10" r="2.8" fill="#4F6FAD" fill-opacity="0.3"/>
<circle cx="445.50" cy="233.00" r="2.8" fill="#4F6FAD" fill-opacity="0.3"/>
<circle cx="447.40" cy="237.80" r="2.8" fill="#4F6FAD" fill-opacity="0.3"/>
<circle cx="457.40" cy="233.00" r="2.8" fill="#4F6FAD" fill-opacity="0.3"/>
<circle cx="467.80" cy="228.30" r="2.8" fill="#4F6FAD" fill-opacity="0.3"/>
<circle cx="468.30" cy="243.50" r="2.8" fill="#4F6FAD" fill-opacity="0.3"/>
<circle cx="462.60" cy="238.70" r="2.8" fill="#4F6FAD" fill-opacity="0.3"/>
<circle cx="479.10" cy="234.00" r="2.8" fill="#4F6FAD" fill-opacity="0.3"/>
<circle cx="479.60" cy="238.70" r="2.8" fill="#4F6FAD" fill-opacity="0.3"/>
<circle cx="485.80" cy="236.80" r="2.8" fill="#4F6FAD" fill-opacity="0.3"/>
<circle cx="458.00" cy="228.00" r="2.8" fill="#4F6FAD" fill-opacity="0.3"/>
<circle cx="527.70" cy="220.30" r="2.8" fill="#86AA5E" fill-opacity="0.3"/>
<circle cx="539.50" cy="218.30" r="2.8" fill="#86AA5E" fill-opacity="0.3"/>
<circle cx="539.50" cy="221.10" r="2.8" fill="#86AA5E" fill-opacity="0.3"/>
<circle cx="506.40" cy="221.90" r="2.8" fill="#86AA5E" fill-opacity="0.3"/>
<circle cx="500.10" cy="222.20" r="2.8" fill="#86AA5E" fill-opacity="0.3"/>
<circle cx="496.20" cy="228.50" r="2.8" fill="#86AA5E" fill-opacity="0.3"/>
<circle cx="541.90" cy="230.50" r="2.8" fill="#86AA5E" fill-opacity="0.3"/>
<circle cx="506.40" cy="237.20" r="2.8" fill="#86AA5E" fill-opacity="0.3"/>
<circle cx="503.20" cy="240.40" r="2.8" fill="#86AA5E" fill-opacity="0.3"/>
<circle cx="526.10" cy="234.00" r="2.8" fill="#86AA5E" fill-opacity="0.3"/>
<circle cx="538.30" cy="236.00" r="2.8" fill="#86AA5E" fill-opacity="0.3"/>
<circle cx="512.00" cy="228.00" r="2.8" fill="#86AA5E" fill-opacity="0.3"/>
<rect x="431.05" y="176.60" width="121.20" height="19.50" fill="none" stroke="#000" stroke-width="1.7"/>
<text x="491.65" y="190.30" font-size="10.9" fill="#1A1A1A" stroke="#1A1A1A" stroke-width="0.2" text-anchor="middle" >ENST00000487159.5</text>
<rect x="430.45" y="196.10" width="122.00" height="107.40" fill="none" stroke="#000" stroke-width="1.7"/>
<text x="478.70" y="208.90" font-size="10.6" fill="#000" stroke="#000" stroke-width="0.2" text-anchor="start" >p = 0.5</text>
<line x1="463.65" y1="303.50" x2="463.65" y2="307.20" stroke="#333" stroke-width="1.5" stroke-linecap="butt"/>
<text x="462.35" y="319.10" font-size="10.6" fill="#4D4D4D" stroke="#4D4D4D" stroke-width="0.2" text-anchor="middle" >KS</text>
<line x1="519.25" y1="303.50" x2="519.25" y2="307.20" stroke="#333" stroke-width="1.5" stroke-linecap="butt"/>
<text x="517.55" y="319.10" font-size="10.6" fill="#4D4D4D" stroke="#4D4D4D" stroke-width="0.2" text-anchor="middle" >Controls</text>
<line x1="593.00" y1="279.90" x2="593.00" y2="296.70" stroke="#2b2b2b" stroke-width="1.7" stroke-linecap="butt"/>
<line x1="593.00" y1="299.50" x2="593.00" y2="299.50" stroke="#2b2b2b" stroke-width="1.7" stroke-linecap="butt"/>
<rect x="572.30" y="296.70" width="41.40" height="2.80" fill="#4F6FAD" fill-opacity="0.5" stroke="#2b2b2b" stroke-width="1.7"/>
<line x1="572.30" y1="299.00" x2="613.70" y2="299.00" stroke="#1a1a1a" stroke-width="2.4" stroke-linecap="butt"/>
<line x1="648.60" y1="280.30" x2="648.60" y2="286.70" stroke="#2b2b2b" stroke-width="1.7" stroke-linecap="butt"/>
<line x1="648.60" y1="298.60" x2="648.60" y2="298.60" stroke="#2b2b2b" stroke-width="1.7" stroke-linecap="butt"/>
<rect x="627.90" y="286.70" width="41.40" height="11.90" fill="#86AA5E" fill-opacity="0.5" stroke="#2b2b2b" stroke-width="1.7"/>
<line x1="627.90" y1="298.20" x2="669.30" y2="298.20" stroke="#1a1a1a" stroke-width="2.4" stroke-linecap="butt"/>
<circle cx="571.50" cy="279.50" r="2.8" fill="#4F6FAD" fill-opacity="0.3"/>
<circle cx="589.60" cy="279.50" r="2.8" fill="#4F6FAD" fill-opacity="0.3"/>
<circle cx="578.20" cy="285.40" r="2.8" fill="#4F6FAD" fill-opacity="0.3"/>
<circle cx="579.00" cy="284.60" r="2.8" fill="#4F6FAD" fill-opacity="0.3"/>
<circle cx="602.20" cy="288.50" r="2.8" fill="#4F6FAD" fill-opacity="0.3"/>
<circle cx="573.90" cy="300.40" r="2.8" fill="#4F6FAD" fill-opacity="0.3"/>
<circle cx="578.60" cy="300.80" r="2.8" fill="#4F6FAD" fill-opacity="0.3"/>
<circle cx="600.70" cy="300.80" r="2.8" fill="#4F6FAD" fill-opacity="0.3"/>
<circle cx="605.40" cy="300.80" r="2.8" fill="#4F6FAD" fill-opacity="0.3"/>
<circle cx="614.10" cy="299.20" r="2.8" fill="#4F6FAD" fill-opacity="0.3"/>
<circle cx="635.00" cy="281.10" r="2.8" fill="#86AA5E" fill-opacity="0.3"/>
<circle cx="641.30" cy="281.10" r="2.8" fill="#86AA5E" fill-opacity="0.3"/>
<circle cx="668.50" cy="280.30" r="2.8" fill="#86AA5E" fill-opacity="0.3"/>
<circle cx="647.20" cy="283.80" r="2.8" fill="#86AA5E" fill-opacity="0.3"/>
<circle cx="626.70" cy="288.20" r="2.8" fill="#86AA5E" fill-opacity="0.3"/>
<circle cx="655.50" cy="290.10" r="2.8" fill="#86AA5E" fill-opacity="0.3"/>
<circle cx="662.60" cy="290.90" r="2.8" fill="#86AA5E" fill-opacity="0.3"/>
<circle cx="629.10" cy="299.60" r="2.8" fill="#86AA5E" fill-opacity="0.3"/>
<circle cx="636.60" cy="298.00" r="2.8" fill="#86AA5E" fill-opacity="0.3"/>
<circle cx="641.30" cy="298.00" r="2.8" fill="#86AA5E" fill-opacity="0.3"/>
<circle cx="663.40" cy="298.00" r="2.8" fill="#86AA5E" fill-opacity="0.3"/>
<rect x="560.40" y="176.60" width="121.20" height="19.50" fill="none" stroke="#000" stroke-width="1.7"/>
<text x="621.00" y="190.30" font-size="10.9" fill="#1A1A1A" stroke="#1A1A1A" stroke-width="0.2" text-anchor="middle" >ENST00000613405.4</text>
<rect x="559.80" y="196.10" width="122.00" height="107.40" fill="none" stroke="#000" stroke-width="1.7"/>
<text x="584.60" y="208.90" font-size="10.6" fill="#000" stroke="#000" stroke-width="0.2" text-anchor="start" >p = 0.28</text>
<line x1="593.00" y1="303.50" x2="593.00" y2="307.20" stroke="#333" stroke-width="1.5" stroke-linecap="butt"/>
<text x="592.30" y="318.20" font-size="10.6" fill="#4D4D4D" stroke="#4D4D4D" stroke-width="0.2" text-anchor="middle" >KS</text>
<line x1="648.60" y1="303.50" x2="648.60" y2="307.20" stroke="#333" stroke-width="1.5" stroke-linecap="butt"/>
<text x="647.40" y="318.20" font-size="10.6" fill="#4D4D4D" stroke="#4D4D4D" stroke-width="0.2" text-anchor="middle" >Controls</text>
<line x1="38.60" y1="299.00" x2="42.40" y2="299.00" stroke="#333" stroke-width="1.5" stroke-linecap="butt"/>
<text x="36.20" y="303.50" font-size="10.9" fill="#4D4D4D" stroke="#4D4D4D" stroke-width="0.2" text-anchor="end" >0</text>
<line x1="38.60" y1="272.00" x2="42.40" y2="272.00" stroke="#333" stroke-width="1.5" stroke-linecap="butt"/>
<text x="36.20" y="276.50" font-size="10.9" fill="#4D4D4D" stroke="#4D4D4D" stroke-width="0.2" text-anchor="end" >250</text>
<line x1="38.60" y1="244.60" x2="42.40" y2="244.60" stroke="#333" stroke-width="1.5" stroke-linecap="butt"/>
<text x="36.20" y="249.10" font-size="10.9" fill="#4D4D4D" stroke="#4D4D4D" stroke-width="0.2" text-anchor="end" >500</text>
<line x1="38.60" y1="217.40" x2="42.40" y2="217.40" stroke="#333" stroke-width="1.5" stroke-linecap="butt"/>
<text x="36.20" y="221.90" font-size="10.9" fill="#4D4D4D" stroke="#4D4D4D" stroke-width="0.2" text-anchor="end" >750</text>
<text transform="translate(12.6,250) rotate(-90)" font-size="13" text-anchor="middle" fill="#000" stroke="#000" stroke-width="0.2">Normalized counts</text>
<circle cx="45.30" cy="454.00" r="2.8" fill="#4F6FAD" fill-opacity="0.3"/>
<circle cx="62.30" cy="445.00" r="2.8" fill="#4F6FAD" fill-opacity="0.3"/>
<circle cx="81.00" cy="445.00" r="2.8" fill="#4F6FAD" fill-opacity="0.3"/>
<circle cx="81.30" cy="465.10" r="2.8" fill="#4F6FAD" fill-opacity="0.3"/>
<circle cx="91.60" cy="456.20" r="2.8" fill="#4F6FAD" fill-opacity="0.3"/>
<circle cx="126.90" cy="446.00" r="2.8" fill="#4F6FAD" fill-opacity="0.3"/>
<circle cx="135.30" cy="445.00" r="2.8" fill="#4F6FAD" fill-opacity="0.3"/>
<circle cx="130.00" cy="460.30" r="2.8" fill="#4F6FAD" fill-opacity="0.3"/>
<circle cx="142.40" cy="451.70" r="2.8" fill="#4F6FAD" fill-opacity="0.3"/>
<circle cx="143.30" cy="461.50" r="2.8" fill="#4F6FAD" fill-opacity="0.3"/>
<circle cx="151.30" cy="460.30" r="2.8" fill="#4F6FAD" fill-opacity="0.3"/>
<circle cx="157.00" cy="461.50" r="2.8" fill="#4F6FAD" fill-opacity="0.3"/>
<circle cx="126.40" cy="457.10" r="2.8" fill="#4F6FAD" fill-opacity="0.3"/>
<circle cx="80.00" cy="447.00" r="2.8" fill="#4F6FAD" fill-opacity="0.3"/>
<circle cx="95.00" cy="452.00" r="2.8" fill="#4F6FAD" fill-opacity="0.3"/>
<circle cx="104.00" cy="450.00" r="2.8" fill="#4F6FAD" fill-opacity="0.3"/>
<circle cx="118.00" cy="455.00" r="2.8" fill="#4F6FAD" fill-opacity="0.3"/>
<circle cx="110.00" cy="458.00" r="2.8" fill="#4F6FAD" fill-opacity="0.3"/>
<circle cx="45.00" cy="436.00" r="2.8" fill="#86AA5E" fill-opacity="0.3"/>
<circle cx="73.80" cy="447.30" r="2.8" fill="#86AA5E" fill-opacity="0.3"/>
<circle cx="73.80" cy="456.70" r="2.8" fill="#86AA5E" fill-opacity="0.3"/>
<circle cx="91.60" cy="447.80" r="2.8" fill="#86AA5E" fill-opacity="0.3"/>
<circle cx="94.30" cy="458.00" r="2.8" fill="#86AA5E" fill-opacity="0.3"/>
<circle cx="108.60" cy="449.00" r="2.8" fill="#86AA5E" fill-opacity="0.3"/>
<circle cx="119.30" cy="447.30" r="2.8" fill="#86AA5E" fill-opacity="0.3"/>
<circle cx="120.00" cy="449.00" r="2.8" fill="#86AA5E" fill-opacity="0.3"/>
<circle cx="149.50" cy="451.70" r="2.8" fill="#86AA5E" fill-opacity="0.3"/>
<circle cx="89.00" cy="452.00" r="2.8" fill="#86AA5E" fill-opacity="0.3"/>
<circle cx="57.00" cy="449.00" r="2.8" fill="#86AA5E" fill-opacity="0.3"/>
<circle cx="130.00" cy="452.00" r="2.8" fill="#86AA5E" fill-opacity="0.3"/>
<line x1="45.00" y1="450.80" x2="157.00" y2="457.00" stroke="#4F6FAD" stroke-width="2.7" stroke-linecap="butt"/>
<line x1="45.00" y1="448.20" x2="149.50" y2="453.00" stroke="#86AA5E" stroke-width="2.7" stroke-linecap="butt"/>
<rect x="40.00" y="350.00" width="122.00" height="19.20" fill="none" stroke="#000" stroke-width="1.7"/>
<text x="101.00" y="363.40" font-size="10.85" fill="#1A1A1A" stroke="#1A1A1A" stroke-width="0.2" text-anchor="middle" >cg01855070</text>
<rect x="39.10" y="369.20" width="123.40" height="107.90" fill="none" stroke="#000" stroke-width="1.7"/>
<text x="45.30" y="387.0" font-size="10.6" fill="#4F6FAD" stroke="#4F6FAD" stroke-width="0.2"><tspan font-style="italic">R</tspan> <tspan dx="-0.9">=</tspan> −<tspan dx="1.3">0.32</tspan>, <tspan font-style="italic">p</tspan> = 0.17</text>
<text x="45.30" y="400.8" font-size="10.6" fill="#86AA5E" stroke="#86AA5E" stroke-width="0.2"><tspan font-style="italic">R</tspan> <tspan dx="-0.9">=</tspan> −<tspan dx="1.3">0.24</tspan>, <tspan font-style="italic">p</tspan> = 0.38</text>
<line x1="72.80" y1="477.10" x2="72.80" y2="480.80" stroke="#333" stroke-width="1.5" stroke-linecap="butt"/>
<text x="72.80" y="491.30" font-size="10.9" fill="#4D4D4D" stroke="#4D4D4D" stroke-width="0.2" text-anchor="middle" >300</text>
<line x1="107.15" y1="477.10" x2="107.15" y2="480.80" stroke="#333" stroke-width="1.5" stroke-linecap="butt"/>
<text x="107.15" y="491.30" font-size="10.9" fill="#4D4D4D" stroke="#4D4D4D" stroke-width="0.2" text-anchor="middle" >400</text>
<line x1="141.50" y1="477.10" x2="141.50" y2="480.80" stroke="#333" stroke-width="1.5" stroke-linecap="butt"/>
<text x="141.50" y="491.30" font-size="10.9" fill="#4D4D4D" stroke="#4D4D4D" stroke-width="0.2" text-anchor="middle" >500</text>
<circle cx="175.20" cy="419.60" r="2.8" fill="#4F6FAD" fill-opacity="0.3"/>
<circle cx="192.50" cy="408.30" r="2.8" fill="#4F6FAD" fill-opacity="0.3"/>
<circle cx="257.10" cy="410.40" r="2.8" fill="#4F6FAD" fill-opacity="0.3"/>
<circle cx="264.80" cy="415.40" r="2.8" fill="#4F6FAD" fill-opacity="0.3"/>
<circle cx="211.70" cy="420.80" r="2.8" fill="#4F6FAD" fill-opacity="0.3"/>
<circle cx="221.00" cy="430.60" r="2.8" fill="#4F6FAD" fill-opacity="0.3"/>
<circle cx="255.00" cy="426.50" r="2.8" fill="#4F6FAD" fill-opacity="0.3"/>
<circle cx="271.00" cy="434.80" r="2.8" fill="#4F6FAD" fill-opacity="0.3"/>
<circle cx="273.70" cy="433.30" r="2.8" fill="#4F6FAD" fill-opacity="0.3"/>
<circle cx="281.50" cy="433.30" r="2.8" fill="#4F6FAD" fill-opacity="0.3"/>
<circle cx="285.60" cy="419.60" r="2.8" fill="#4F6FAD" fill-opacity="0.3"/>
<circle cx="286.70" cy="429.60" r="2.8" fill="#4F6FAD" fill-opacity="0.3"/>
<circle cx="234.00" cy="418.00" r="2.8" fill="#4F6FAD" fill-opacity="0.3"/>
<circle cx="225.00" cy="423.00" r="2.8" fill="#4F6FAD" fill-opacity="0.3"/>
<circle cx="248.00" cy="420.00" r="2.8" fill="#4F6FAD" fill-opacity="0.3"/>
<circle cx="259.00" cy="424.00" r="2.8" fill="#4F6FAD" fill-opacity="0.3"/>
<circle cx="174.60" cy="404.60" r="2.8" fill="#86AA5E" fill-opacity="0.3"/>
<circle cx="210.00" cy="406.70" r="2.8" fill="#86AA5E" fill-opacity="0.3"/>
<circle cx="221.00" cy="413.30" r="2.8" fill="#86AA5E" fill-opacity="0.3"/>
<circle cx="238.30" cy="412.50" r="2.8" fill="#86AA5E" fill-opacity="0.3"/>
<circle cx="203.80" cy="425.00" r="2.8" fill="#86AA5E" fill-opacity="0.3"/>
<circle cx="224.60" cy="427.50" r="2.8" fill="#86AA5E" fill-opacity="0.3"/>
<circle cx="256.50" cy="412.50" r="2.8" fill="#86AA5E" fill-opacity="0.3"/>
<circle cx="279.40" cy="414.60" r="2.8" fill="#86AA5E" fill-opacity="0.3"/>
<circle cx="187.70" cy="416.00" r="2.8" fill="#86AA5E" fill-opacity="0.3"/>
<circle cx="249.00" cy="418.00" r="2.8" fill="#86AA5E" fill-opacity="0.3"/>
<circle cx="225.00" cy="420.00" r="2.8" fill="#86AA5E" fill-opacity="0.3"/>
<line x1="175.20" y1="414.00" x2="286.70" y2="426.90" stroke="#4F6FAD" stroke-width="2.7" stroke-linecap="butt"/>
<line x1="175.20" y1="415.00" x2="279.80" y2="418.75" stroke="#86AA5E" stroke-width="2.7" stroke-linecap="butt"/>
<rect x="170.00" y="350.00" width="122.00" height="19.20" fill="none" stroke="#000" stroke-width="1.7"/>
<text x="231.00" y="363.40" font-size="10.85" fill="#1A1A1A" stroke="#1A1A1A" stroke-width="0.2" text-anchor="middle" >cg03168947</text>
<rect x="169.10" y="369.20" width="123.40" height="107.90" fill="none" stroke="#000" stroke-width="1.7"/>
<text x="175.30" y="387.0" font-size="10.6" fill="#4F6FAD" stroke="#4F6FAD" stroke-width="0.2"><tspan font-style="italic">R</tspan> <tspan dx="-0.9">=</tspan> −<tspan dx="1.3">0.48</tspan>, <tspan font-style="italic">p</tspan> = 0.032</text>
<text x="175.30" y="400.8" font-size="10.6" fill="#86AA5E" stroke="#86AA5E" stroke-width="0.2"><tspan font-style="italic">R</tspan> <tspan dx="-0.9">=</tspan> −<tspan dx="1.3">0.16</tspan>, <tspan font-style="italic">p</tspan> = 0.57</text>
<line x1="202.80" y1="477.10" x2="202.80" y2="480.80" stroke="#333" stroke-width="1.5" stroke-linecap="butt"/>
<text x="202.80" y="491.30" font-size="10.9" fill="#4D4D4D" stroke="#4D4D4D" stroke-width="0.2" text-anchor="middle" >300</text>
<line x1="237.15" y1="477.10" x2="237.15" y2="480.80" stroke="#333" stroke-width="1.5" stroke-linecap="butt"/>
<text x="237.15" y="491.30" font-size="10.9" fill="#4D4D4D" stroke="#4D4D4D" stroke-width="0.2" text-anchor="middle" >400</text>
<line x1="271.50" y1="477.10" x2="271.50" y2="480.80" stroke="#333" stroke-width="1.5" stroke-linecap="butt"/>
<text x="271.50" y="491.30" font-size="10.9" fill="#4D4D4D" stroke="#4D4D4D" stroke-width="0.2" text-anchor="middle" >500</text>
<circle cx="305.20" cy="452.90" r="2.8" fill="#4F6FAD" fill-opacity="0.3"/>
<circle cx="321.90" cy="443.80" r="2.8" fill="#4F6FAD" fill-opacity="0.3"/>
<circle cx="341.70" cy="458.80" r="2.8" fill="#4F6FAD" fill-opacity="0.3"/>
<circle cx="351.00" cy="456.70" r="2.8" fill="#4F6FAD" fill-opacity="0.3"/>
<circle cx="355.20" cy="450.40" r="2.8" fill="#4F6FAD" fill-opacity="0.3"/>
<circle cx="378.80" cy="450.40" r="2.8" fill="#4F6FAD" fill-opacity="0.3"/>
<circle cx="387.10" cy="442.50" r="2.8" fill="#4F6FAD" fill-opacity="0.3"/>
<circle cx="385.40" cy="456.70" r="2.8" fill="#4F6FAD" fill-opacity="0.3"/>
<circle cx="394.80" cy="445.20" r="2.8" fill="#4F6FAD" fill-opacity="0.3"/>
<circle cx="403.10" cy="455.00" r="2.8" fill="#4F6FAD" fill-opacity="0.3"/>
<circle cx="401.00" cy="462.50" r="2.8" fill="#4F6FAD" fill-opacity="0.3"/>
<circle cx="411.50" cy="457.70" r="2.8" fill="#4F6FAD" fill-opacity="0.3"/>
<circle cx="416.70" cy="461.90" r="2.8" fill="#4F6FAD" fill-opacity="0.3"/>
<circle cx="389.00" cy="455.00" r="2.8" fill="#4F6FAD" fill-opacity="0.3"/>
<circle cx="364.00" cy="452.00" r="2.8" fill="#4F6FAD" fill-opacity="0.3"/>
<circle cx="330.00" cy="450.00" r="2.8" fill="#4F6FAD" fill-opacity="0.3"/>
<circle cx="304.60" cy="432.30" r="2.8" fill="#86AA5E" fill-opacity="0.3"/>
<circle cx="340.00" cy="438.30" r="2.8" fill="#86AA5E" fill-opacity="0.3"/>
<circle cx="333.80" cy="441.00" r="2.8" fill="#86AA5E" fill-opacity="0.3"/>
<circle cx="368.30" cy="440.40" r="2.8" fill="#86AA5E" fill-opacity="0.3"/>
<circle cx="387.10" cy="437.50" r="2.8" fill="#86AA5E" fill-opacity="0.3"/>
<circle cx="379.20" cy="443.80" r="2.8" fill="#86AA5E" fill-opacity="0.3"/>
<circle cx="409.40" cy="444.60" r="2.8" fill="#86AA5E" fill-opacity="0.3"/>
<circle cx="355.20" cy="456.70" r="2.8" fill="#86AA5E" fill-opacity="0.3"/>
<circle cx="352.10" cy="443.80" r="2.8" fill="#86AA5E" fill-opacity="0.3"/>
<circle cx="317.70" cy="445.00" r="2.8" fill="#86AA5E" fill-opacity="0.3"/>
<circle cx="355.00" cy="453.00" r="2.8" fill="#86AA5E" fill-opacity="0.3"/>
<line x1="305.20" y1="448.30" x2="416.70" y2="456.70" stroke="#4F6FAD" stroke-width="2.7" stroke-linecap="butt"/>
<line x1="305.20" y1="442.50" x2="409.80" y2="447.70" stroke="#86AA5E" stroke-width="2.7" stroke-linecap="butt"/>
<rect x="300.00" y="350.00" width="122.00" height="19.20" fill="none" stroke="#000" stroke-width="1.7"/>
<text x="361.00" y="363.40" font-size="10.85" fill="#1A1A1A" stroke="#1A1A1A" stroke-width="0.2" text-anchor="middle" >cg08508763</text>
<rect x="299.10" y="369.20" width="123.40" height="107.90" fill="none" stroke="#000" stroke-width="1.7"/>
<text x="305.30" y="387.0" font-size="10.6" fill="#4F6FAD" stroke="#4F6FAD" stroke-width="0.2"><tspan font-style="italic">R</tspan> <tspan dx="-0.9">=</tspan> −<tspan dx="1.3">0.42</tspan>, <tspan font-style="italic">p</tspan> = 0.064</text>
<text x="305.30" y="400.8" font-size="10.6" fill="#86AA5E" stroke="#86AA5E" stroke-width="0.2"><tspan font-style="italic">R</tspan> <tspan dx="-0.9">=</tspan> −<tspan dx="1.3">0.21</tspan>, <tspan font-style="italic">p</tspan> = 0.44</text>
<line x1="332.80" y1="477.10" x2="332.80" y2="480.80" stroke="#333" stroke-width="1.5" stroke-linecap="butt"/>
<text x="332.80" y="491.30" font-size="10.9" fill="#4D4D4D" stroke="#4D4D4D" stroke-width="0.2" text-anchor="middle" >300</text>
<line x1="367.15" y1="477.10" x2="367.15" y2="480.80" stroke="#333" stroke-width="1.5" stroke-linecap="butt"/>
<text x="367.15" y="491.30" font-size="10.9" fill="#4D4D4D" stroke="#4D4D4D" stroke-width="0.2" text-anchor="middle" >400</text>
<line x1="401.50" y1="477.10" x2="401.50" y2="480.80" stroke="#333" stroke-width="1.5" stroke-linecap="butt"/>
<text x="401.50" y="491.30" font-size="10.9" fill="#4D4D4D" stroke="#4D4D4D" stroke-width="0.2" text-anchor="middle" >500</text>
<circle cx="435.20" cy="445.20" r="2.8" fill="#4F6FAD" fill-opacity="0.3"/>
<circle cx="451.90" cy="436.25" r="2.8" fill="#4F6FAD" fill-opacity="0.3"/>
<circle cx="471.70" cy="455.00" r="2.8" fill="#4F6FAD" fill-opacity="0.3"/>
<circle cx="481.00" cy="454.20" r="2.8" fill="#4F6FAD" fill-opacity="0.3"/>
<circle cx="485.20" cy="450.00" r="2.8" fill="#4F6FAD" fill-opacity="0.3"/>
<circle cx="508.75" cy="445.20" r="2.8" fill="#4F6FAD" fill-opacity="0.3"/>
<circle cx="517.10" cy="436.90" r="2.8" fill="#4F6FAD" fill-opacity="0.3"/>
<circle cx="515.00" cy="449.40" r="2.8" fill="#4F6FAD" fill-opacity="0.3"/>
<circle cx="515.40" cy="456.25" r="2.8" fill="#4F6FAD" fill-opacity="0.3"/>
<circle cx="524.80" cy="440.00" r="2.8" fill="#4F6FAD" fill-opacity="0.3"/>
<circle cx="531.00" cy="460.40" r="2.8" fill="#4F6FAD" fill-opacity="0.3"/>
<circle cx="541.50" cy="461.25" r="2.8" fill="#4F6FAD" fill-opacity="0.3"/>
<circle cx="546.70" cy="457.10" r="2.8" fill="#4F6FAD" fill-opacity="0.3"/>
<circle cx="519.00" cy="456.00" r="2.8" fill="#4F6FAD" fill-opacity="0.3"/>
<circle cx="494.00" cy="448.00" r="2.8" fill="#4F6FAD" fill-opacity="0.3"/>
<circle cx="460.00" cy="446.00" r="2.8" fill="#4F6FAD" fill-opacity="0.3"/>
<circle cx="434.60" cy="434.80" r="2.8" fill="#86AA5E" fill-opacity="0.3"/>
<circle cx="448.30" cy="448.75" r="2.8" fill="#86AA5E" fill-opacity="0.3"/>
<circle cx="463.75" cy="450.40" r="2.8" fill="#86AA5E" fill-opacity="0.3"/>
<circle cx="470.00" cy="437.50" r="2.8" fill="#86AA5E" fill-opacity="0.3"/>
<circle cx="481.00" cy="435.80" r="2.8" fill="#86AA5E" fill-opacity="0.3"/>
<circle cx="484.60" cy="439.00" r="2.8" fill="#86AA5E" fill-opacity="0.3"/>
<circle cx="498.30" cy="439.60" r="2.8" fill="#86AA5E" fill-opacity="0.3"/>
<circle cx="509.20" cy="437.90" r="2.8" fill="#86AA5E" fill-opacity="0.3"/>
<circle cx="517.10" cy="434.20" r="2.8" fill="#86AA5E" fill-opacity="0.3"/>
<circle cx="539.40" cy="442.50" r="2.8" fill="#86AA5E" fill-opacity="0.3"/>
<circle cx="487.00" cy="443.00" r="2.8" fill="#86AA5E" fill-opacity="0.3"/>
<line x1="435.20" y1="441.70" x2="546.70" y2="456.25" stroke="#4F6FAD" stroke-width="2.7" stroke-linecap="butt"/>
<line x1="435.20" y1="443.75" x2="539.40" y2="440.40" stroke="#86AA5E" stroke-width="2.7" stroke-linecap="butt"/>
<rect x="430.00" y="350.00" width="122.00" height="19.20" fill="none" stroke="#000" stroke-width="1.7"/>
<text x="491.00" y="363.40" font-size="10.85" fill="#1A1A1A" stroke="#1A1A1A" stroke-width="0.2" text-anchor="middle" >cg08804892</text>
<rect x="429.10" y="369.20" width="123.40" height="107.90" fill="none" stroke="#000" stroke-width="1.7"/>
<text x="435.30" y="387.0" font-size="10.6" fill="#4F6FAD" stroke="#4F6FAD" stroke-width="0.2"><tspan font-style="italic">R</tspan> <tspan dx="-0.9">=</tspan> −<tspan dx="1.3">0.55</tspan>, <tspan font-style="italic">p</tspan> = 0.012</text>
<text x="435.30" y="400.8" font-size="10.6" fill="#86AA5E" stroke="#86AA5E" stroke-width="0.2"><tspan font-style="italic">R</tspan> <tspan dx="-0.9">=</tspan> <tspan dx="-0.7">0.17</tspan>, <tspan font-style="italic">p</tspan> = 0.56</text>
<line x1="462.80" y1="477.10" x2="462.80" y2="480.80" stroke="#333" stroke-width="1.5" stroke-linecap="butt"/>
<text x="462.80" y="491.30" font-size="10.9" fill="#4D4D4D" stroke="#4D4D4D" stroke-width="0.2" text-anchor="middle" >300</text>
<line x1="497.15" y1="477.10" x2="497.15" y2="480.80" stroke="#333" stroke-width="1.5" stroke-linecap="butt"/>
<text x="497.15" y="491.30" font-size="10.9" fill="#4D4D4D" stroke="#4D4D4D" stroke-width="0.2" text-anchor="middle" >400</text>
<line x1="531.50" y1="477.10" x2="531.50" y2="480.80" stroke="#333" stroke-width="1.5" stroke-linecap="butt"/>
<text x="531.50" y="491.30" font-size="10.9" fill="#4D4D4D" stroke="#4D4D4D" stroke-width="0.2" text-anchor="middle" >500</text>
<circle cx="565.20" cy="415.40" r="2.8" fill="#4F6FAD" fill-opacity="0.3"/>
<circle cx="581.90" cy="400.80" r="2.8" fill="#4F6FAD" fill-opacity="0.3"/>
<circle cx="601.70" cy="421.70" r="2.8" fill="#4F6FAD" fill-opacity="0.3"/>
<circle cx="611.00" cy="430.60" r="2.8" fill="#4F6FAD" fill-opacity="0.3"/>
<circle cx="616.00" cy="414.00" r="2.8" fill="#4F6FAD" fill-opacity="0.3"/>
<circle cx="638.75" cy="414.00" r="2.8" fill="#4F6FAD" fill-opacity="0.3"/>
<circle cx="647.10" cy="403.50" r="2.8" fill="#4F6FAD" fill-opacity="0.3"/>
<circle cx="645.40" cy="425.80" r="2.8" fill="#4F6FAD" fill-opacity="0.3"/>
<circle cx="649.60" cy="420.20" r="2.8" fill="#4F6FAD" fill-opacity="0.3"/>
<circle cx="661.70" cy="419.60" r="2.8" fill="#4F6FAD" fill-opacity="0.3"/>
<circle cx="661.00" cy="431.25" r="2.8" fill="#4F6FAD" fill-opacity="0.3"/>
<circle cx="663.00" cy="431.00" r="2.8" fill="#4F6FAD" fill-opacity="0.3"/>
<circle cx="671.00" cy="435.80" r="2.8" fill="#4F6FAD" fill-opacity="0.3"/>
<circle cx="675.60" cy="416.70" r="2.8" fill="#4F6FAD" fill-opacity="0.3"/>
<circle cx="676.70" cy="429.60" r="2.8" fill="#4F6FAD" fill-opacity="0.3"/>
<circle cx="625.00" cy="418.00" r="2.8" fill="#4F6FAD" fill-opacity="0.3"/>
<circle cx="590.00" cy="412.00" r="2.8" fill="#4F6FAD" fill-opacity="0.3"/>
<circle cx="564.20" cy="389.60" r="2.8" fill="#86AA5E" fill-opacity="0.3"/>
<circle cx="600.00" cy="405.00" r="2.8" fill="#86AA5E" fill-opacity="0.3"/>
<circle cx="593.75" cy="420.20" r="2.8" fill="#86AA5E" fill-opacity="0.3"/>
<circle cx="611.00" cy="406.70" r="2.8" fill="#86AA5E" fill-opacity="0.3"/>
<circle cx="614.60" cy="424.40" r="2.8" fill="#86AA5E" fill-opacity="0.3"/>
<circle cx="628.30" cy="408.30" r="2.8" fill="#86AA5E" fill-opacity="0.3"/>
<circle cx="639.20" cy="411.25" r="2.8" fill="#86AA5E" fill-opacity="0.3"/>
<circle cx="647.10" cy="404.60" r="2.8" fill="#86AA5E" fill-opacity="0.3"/>
<circle cx="669.40" cy="410.40" r="2.8" fill="#86AA5E" fill-opacity="0.3"/>
<circle cx="577.70" cy="411.00" r="2.8" fill="#86AA5E" fill-opacity="0.3"/>
<circle cx="615.00" cy="420.00" r="2.8" fill="#86AA5E" fill-opacity="0.3"/>
<line x1="565.20" y1="411.25" x2="676.70" y2="425.80" stroke="#4F6FAD" stroke-width="2.7" stroke-linecap="butt"/>
<line x1="565.20" y1="408.30" x2="669.40" y2="415.40" stroke="#86AA5E" stroke-width="2.7" stroke-linecap="butt"/>
<rect x="560.00" y="350.00" width="122.00" height="19.20" fill="none" stroke="#000" stroke-width="1.7"/>
<text x="621.00" y="363.40" font-size="10.85" fill="#1A1A1A" stroke="#1A1A1A" stroke-width="0.2" text-anchor="middle" >cg23715029</text>
<rect x="559.10" y="369.20" width="123.40" height="107.90" fill="none" stroke="#000" stroke-width="1.7"/>
<text x="565.30" y="387.0" font-size="10.6" fill="#4F6FAD" stroke="#4F6FAD" stroke-width="0.2"><tspan font-style="italic">R</tspan> <tspan dx="-0.9">=</tspan> −<tspan dx="1.3">0.47</tspan>, <tspan font-style="italic">p</tspan> = 0.037</text>
<text x="565.30" y="400.8" font-size="10.6" fill="#86AA5E" stroke="#86AA5E" stroke-width="0.2"><tspan font-style="italic">R</tspan> <tspan dx="-0.9">=</tspan> −<tspan dx="1.3">0.22</tspan>, <tspan font-style="italic">p</tspan> = 0.42</text>
<line x1="592.80" y1="477.10" x2="592.80" y2="480.80" stroke="#333" stroke-width="1.5" stroke-linecap="butt"/>
<text x="592.80" y="491.30" font-size="10.9" fill="#4D4D4D" stroke="#4D4D4D" stroke-width="0.2" text-anchor="middle" >300</text>
<line x1="627.15" y1="477.10" x2="627.15" y2="480.80" stroke="#333" stroke-width="1.5" stroke-linecap="butt"/>
<text x="627.15" y="491.30" font-size="10.9" fill="#4D4D4D" stroke="#4D4D4D" stroke-width="0.2" text-anchor="middle" >400</text>
<line x1="661.50" y1="477.10" x2="661.50" y2="480.80" stroke="#333" stroke-width="1.5" stroke-linecap="butt"/>
<text x="661.50" y="491.30" font-size="10.9" fill="#4D4D4D" stroke="#4D4D4D" stroke-width="0.2" text-anchor="middle" >500</text>
<line x1="35.80" y1="458.60" x2="39.10" y2="458.60" stroke="#333" stroke-width="1.5" stroke-linecap="butt"/>
<text x="33.60" y="462.50" font-size="10.9" fill="#4D4D4D" stroke="#4D4D4D" stroke-width="0.2" text-anchor="end" >0.2</text>
<line x1="35.80" y1="430.60" x2="39.10" y2="430.60" stroke="#333" stroke-width="1.5" stroke-linecap="butt"/>
<text x="33.60" y="434.50" font-size="10.9" fill="#4D4D4D" stroke="#4D4D4D" stroke-width="0.2" text-anchor="end" >0.4</text>
<line x1="35.80" y1="402.60" x2="39.10" y2="402.60" stroke="#333" stroke-width="1.5" stroke-linecap="butt"/>
<text x="33.60" y="406.50" font-size="10.9" fill="#4D4D4D" stroke="#4D4D4D" stroke-width="0.2" text-anchor="end" >0.6</text>
<line x1="35.80" y1="374.60" x2="39.10" y2="374.60" stroke="#333" stroke-width="1.5" stroke-linecap="butt"/>
<text x="33.60" y="378.50" font-size="10.9" fill="#4D4D4D" stroke="#4D4D4D" stroke-width="0.2" text-anchor="end" >0.8</text>
<text transform="translate(12.2,426.9) rotate(-90)" font-size="13" text-anchor="middle" fill="#000" stroke="#000" stroke-width="0.2">β−value</text>
<text x="360.60" y="506.50" font-size="13" fill="#000" stroke="#000" stroke-width="0.2" text-anchor="middle" >ENST00000341421.7</text>
<circle cx="43.55" cy="509.5" r="2.3" fill="#4F6FAD" fill-opacity="0.3" stroke="#4F6FAD" stroke-opacity="0.5" stroke-width="1.0"/>
<circle cx="43.55" cy="521.8" r="2.3" fill="#86AA5E" fill-opacity="0.3" stroke="#86AA5E" stroke-opacity="0.5" stroke-width="1.0"/>
<text x="60.60" y="513.10" font-size="10.6" fill="#1A1A1A" stroke="#1A1A1A" stroke-width="0.2" text-anchor="start" >KS</text>
<text x="60.60" y="525.60" font-size="10.7" fill="#1A1A1A" stroke="#1A1A1A" stroke-width="0.2" text-anchor="start" >Controls</text>
</svg>
</body></html>
